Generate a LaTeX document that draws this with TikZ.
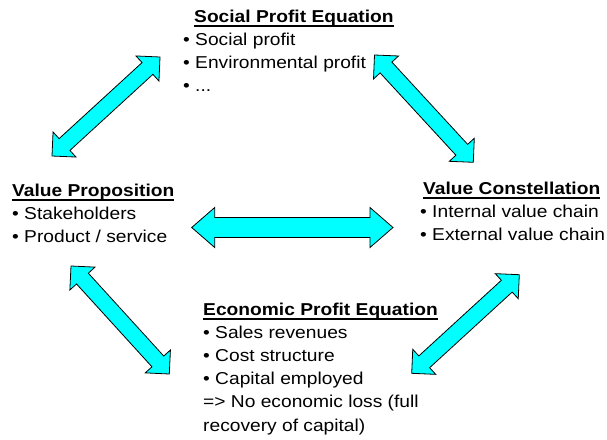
\documentclass[tikz,border=0pt]{standalone}
\usepackage{fontspec}
\setmainfont[FakeStretch=1.116]{Liberation Sans}
\usetikzlibrary{calc}
\definecolor{arrowcyan}{RGB}{0,255,255}
\newcommand{\ulhead}[1]{\setbox0\hbox{\bfseries #1}\rlap{\rule[-4.5pt]{\wd0}{1.6pt}}\box0}
% fat double arrow between two tips: tip, tip, half shaft, half head, head length
\newcommand{\fatarrow}[5]{%
  \coordinate (hp) at ($(#1)!#5!(#2)$);
  \coordinate (hq) at ($(#2)!#5!(#1)$);
  \draw[fatline] (#1) -- ($(hp)!#4!90:(#2)$) -- ($(hp)!#3!90:(#2)$)
    -- ($(hq)!#3!-90:(#1)$) -- ($(hq)!#4!-90:(#1)$) -- (#2)
    -- ($(hq)!#4!90:(#1)$) -- ($(hq)!#3!90:(#1)$)
    -- ($(hp)!#3!-90:(#2)$) -- ($(hp)!#4!-90:(#2)$) -- cycle;}
\tikzset{
  fatline/.style={draw=black, line width=0.8pt, line join=miter, fill=arrowcyan},
  block/.style={inner sep=0pt, anchor=north west, align=left,
    font=\fontsize{17.2}{23.2}\selectfont}
}
\begin{document}
\begin{tikzpicture}[x=1pt,y=-1pt]
    \useasboundingbox (0,0) rectangle (607,439);

    \node[block] (social) at (183,9.5) {\hspace*{11pt}\ulhead{Social Profit Equation}\\
        \textbullet\ Social profit\\ \textbullet\ Environmental profit\\ \textbullet\ ...};
    \node[block] (proposition) at (12,183.5) {\ulhead{Value Proposition}\\
        \textbullet\ Stakeholders\\ \textbullet\ Product / service};
    \node[block] (constellation) at (420,181.5) {\hspace*{3pt}\ulhead{Value Constellation}\\
        \textbullet\ Internal value chain\\ \textbullet\ External value chain};
    \node[block] (economic) at (203,302.5) {\ulhead{Economic Profit Equation}\\
        \textbullet\ Sales revenues\\ \textbullet\ Cost structure\\ \textbullet\ Capital employed\\
        => No economic loss (full\\ recovery of capital)};

    % arrow tips
    \coordinate (a1s) at (52,156);
    \coordinate (a1e) at (160,57);
    \coordinate (a2s) at (374.5,55);
    \coordinate (a2e) at (473.3,162.3);
    \coordinate (a3s) at (191.7,227.5);
    \coordinate (a3e) at (393,227.5);
    \coordinate (a4s) at (71,266);
    \coordinate (a4e) at (169.3,374);
    \coordinate (a5s) at (519.3,274.7);
    \coordinate (a5e) at (411.7,373.3);

    \foreach \s/\e in {a1s/a1e, a2s/a2e, a4s/a4e, a5s/a5e} {
        \fatarrow{\s}{\e}{8pt}{17pt}{17pt}
    }
    \fatarrow{a3s}{a3e}{10pt}{20pt}{23pt}
\end{tikzpicture}
\end{document}
